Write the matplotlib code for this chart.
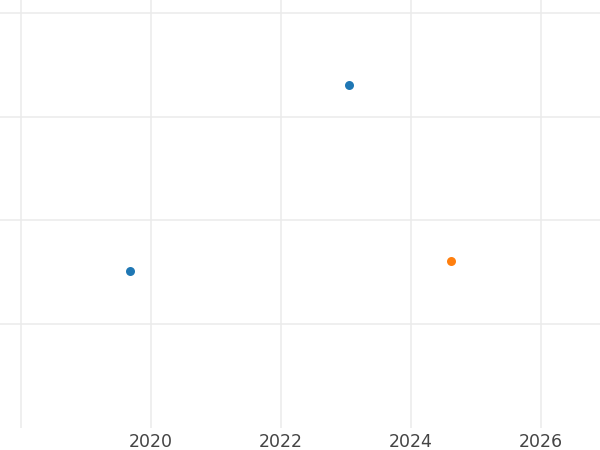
#!/usr/bin/env python3

import matplotlib
matplotlib.use("Agg")
import matplotlib.pyplot as plt

# data (decimal years, arbitrary y units)
blue_x = [2019.68, 2023.05]
blue_y = [1.51, 3.30]
orange_x = [2024.62]
orange_y = [1.61]

x_ticks = [2018, 2020, 2022, 2024, 2026]
x_labels = ["", "2020", "2022", "2024", "2026"]
y_ticks = [1, 2, 3, 4]

blue = "#1f77b4"
orange = "#ff7f0e"
grid_color = "#ebebeb"

fig = plt.figure(figsize=(6, 4.5), dpi=100)
ax = fig.add_axes([0, 22.5 / 450, 1, 427.5 / 450])

ax.scatter(blue_x, blue_y, s=42, color=blue, zorder=3, linewidths=0)
ax.scatter(orange_x, orange_y, s=42, color=orange, zorder=3, linewidths=0)

ax.set_xlim(2017.677, 2026.908)
ax.set_ylim(0, 4.124)
ax.set_xticks(x_ticks)
ax.set_xticklabels(x_labels)
ax.set_yticks(y_ticks)
ax.set_yticklabels([])

ax.grid(True, color=grid_color, linewidth=1.1)
ax.set_axisbelow(True)
for spine in ax.spines.values():
    spine.set_visible(False)
ax.tick_params(length=0, pad=4, labelsize=12.5, labelcolor="#444444")

fig.savefig("out.png", dpi=100)
